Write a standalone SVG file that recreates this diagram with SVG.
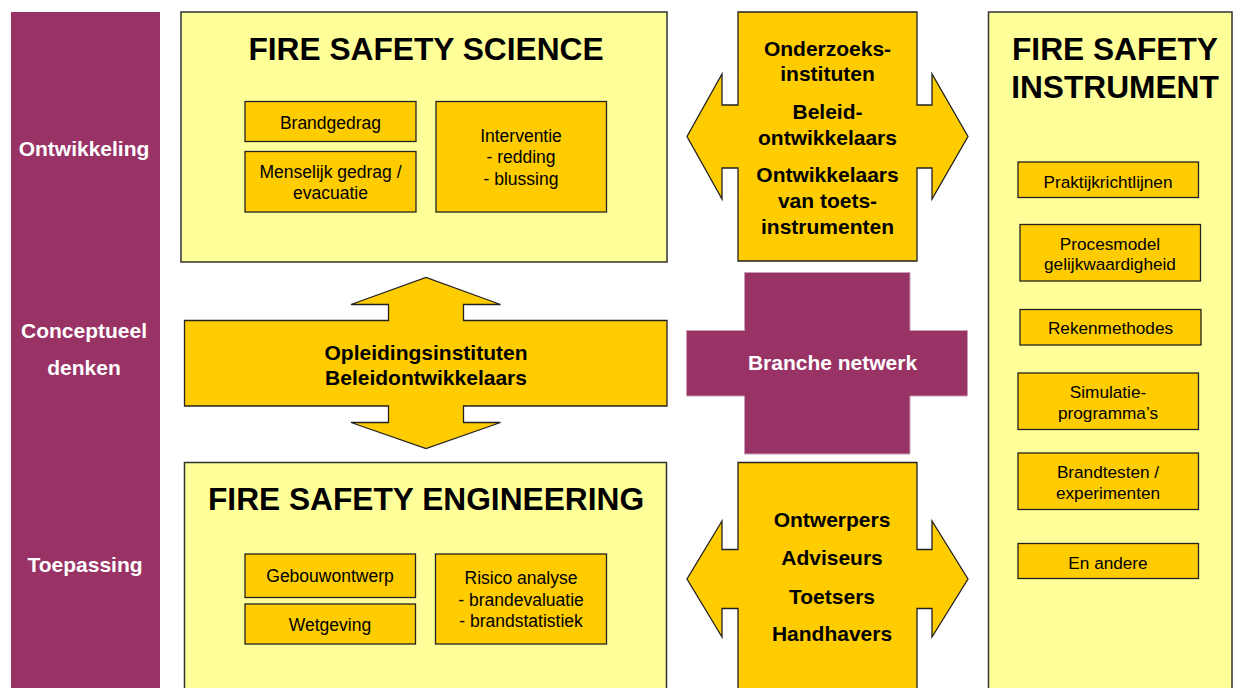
<svg xmlns="http://www.w3.org/2000/svg" width="1236" height="688" viewBox="0 0 1236 688">
  <style>
    .panel { fill: #FFFF99; stroke: #333333; stroke-width: 1.5; }
    .item { fill: #FFCC00; stroke: #222222; stroke-width: 1.3; }
    .arrow { fill: #FFCC00; stroke: #222222; stroke-width: 1.3; stroke-linejoin: miter; }
    .band { fill: #993366; }
    .cross { fill: #993366; stroke: #C9A0B6; stroke-width: 1; }
    .title { font-family: "Liberation Sans", Arial, sans-serif; font-weight: bold; font-size: 31.7px; fill: #000000; text-anchor: middle; }
    .label { font-family: "Liberation Sans", Arial, sans-serif; font-size: 17.5px; fill: #000000; text-anchor: middle; }
    .small { font-family: "Liberation Sans", Arial, sans-serif; font-size: 17.2px; fill: #000000; text-anchor: middle; }
    .bold { font-family: "Liberation Sans", Arial, sans-serif; font-weight: bold; font-size: 21px; fill: #000000; text-anchor: middle; }
    .white { font-family: "Liberation Sans", Arial, sans-serif; font-weight: bold; font-size: 21px; fill: #FFFFFF; text-anchor: middle; }
  </style>

  <rect width="1236" height="688" fill="#FFFFFF"/>

  <!-- Left band with the three levels -->
  <g id="levels">
    <rect class="band" x="11" y="12" width="149" height="680"/>
    <text class="white" x="84" y="156">Ontwikkeling</text>
    <text class="white" x="84" y="338">Conceptueel</text>
    <text class="white" x="84" y="375">denken</text>
    <text class="white" x="85" y="571.5">Toepassing</text>
  </g>

  <!-- Fire safety science -->
  <g id="science">
    <rect class="panel" x="181" y="12" width="486" height="250"/>
    <text class="title" x="426" y="60">FIRE SAFETY SCIENCE</text>
    <rect class="item" x="245" y="101.5" width="171" height="40"/>
    <text class="label" x="330.5" y="129">Brandgedrag</text>
    <rect class="item" x="245" y="151.5" width="171" height="60.5"/>
    <text class="label" x="330.5" y="178">Menselijk gedrag /</text>
    <text class="label" x="330.5" y="199">evacuatie</text>
    <rect class="item" x="436" y="101.5" width="170.5" height="110.5"/>
    <text class="label" x="521" y="141.5">Interventie</text>
    <text class="label" x="521" y="162.5">- redding</text>
    <text class="label" x="521" y="184.5">- blussing</text>
  </g>

  <!-- Fire safety engineering -->
  <g id="engineering">
    <rect class="panel" x="184.5" y="462.5" width="482" height="230"/>
    <text class="title" x="426" y="510">FIRE SAFETY ENGINEERING</text>
    <rect class="item" x="245" y="554" width="170.5" height="43.5"/>
    <text class="label" x="330" y="582">Gebouwontwerp</text>
    <rect class="item" x="245" y="604" width="170.5" height="40"/>
    <text class="label" x="330" y="631">Wetgeving</text>
    <rect class="item" x="435.5" y="554" width="171" height="90"/>
    <text class="label" x="521" y="584">Risico analyse</text>
    <text class="label" x="521" y="605.5">- brandevaluatie</text>
    <text class="label" x="521" y="626.5">- brandstatistiek</text>
  </g>

  <!-- Fire safety instrument -->
  <g id="instrument">
    <rect class="panel" x="988.5" y="12" width="243.5" height="680"/>
    <text class="title" x="1115" y="60">FIRE SAFETY</text>
    <text class="title" x="1115" y="98">INSTRUMENT</text>
    <rect class="item" x="1018" y="162" width="180.5" height="35.5"/>
    <text class="small" x="1108" y="187.5">Praktijkrichtlijnen</text>
    <rect class="item" x="1020" y="224.5" width="180.5" height="56.5"/>
    <text class="small" x="1110" y="250">Procesmodel</text>
    <text class="small" x="1110" y="269.5">gelijkwaardigheid</text>
    <rect class="item" x="1020" y="309.5" width="181" height="35.5"/>
    <text class="small" x="1110.5" y="334">Rekenmethodes</text>
    <rect class="item" x="1018" y="373" width="180.5" height="56.5"/>
    <text class="small" x="1108" y="397.5">Simulatie-</text>
    <text class="small" x="1108" y="419">programma’s</text>
    <rect class="item" x="1018" y="453" width="180.5" height="56.5"/>
    <text class="small" x="1108" y="477.5">Brandtesten /</text>
    <text class="small" x="1108" y="499">experimenten</text>
    <rect class="item" x="1018" y="543.5" width="180.5" height="35"/>
    <text class="small" x="1108" y="568.5">En andere</text>
  </g>

  <!-- Two-way arrows linking the domains -->
  <g id="connectors">
    <g id="link-science-engineering">
      <polygon class="arrow" points="184.5,320.5 388.5,320.5 388.5,304.5 351,304.5 426,277.5 500.5,304.5 463.5,304.5 463.5,320.5 667,320.5 667,406 463.5,406 463.5,422.5 500.5,422.5 426,448.5 351,422.5 388.5,422.5 388.5,406 184.5,406"/>
      <text class="bold" x="426" y="359.5">Opleidingsinstituten</text>
      <text class="bold" x="426" y="384.5">Beleidontwikkelaars</text>
    </g>
    <g id="link-science-instrument">
      <polygon class="arrow" points="738,12 917,12 917,105 932,105 932,74 968,136.5 932,199 932,168 917,168 917,261 738,261 738,168 722,168 722,199 687,136.5 722,74 722,105 738,105"/>
      <text class="bold" x="827.5" y="55.5">Onderzoeks-</text>
      <text class="bold" x="827.5" y="81">instituten</text>
      <text class="bold" x="827.5" y="118.5">Beleid-</text>
      <text class="bold" x="827.5" y="145">ontwikkelaars</text>
      <text class="bold" x="827.5" y="181.5">Ontwikkelaars</text>
      <text class="bold" x="827.5" y="207.5">van toets-</text>
      <text class="bold" x="827.5" y="233.5">instrumenten</text>
    </g>
    <g id="link-engineering-instrument">
      <polygon class="arrow" points="738,462.5 917,462.5 917,549.5 932,549.5 932,521 968,579 932,637 932,608.5 917,608.5 917,692 738,692 738,608.5 722,608.5 722,637 687,579 722,521 722,549.5 738,549.5"/>
      <text class="bold" x="832" y="526.5">Ontwerpers</text>
      <text class="bold" x="832" y="565">Adviseurs</text>
      <text class="bold" x="832" y="603.5">Toetsers</text>
      <text class="bold" x="832" y="641">Handhavers</text>
    </g>
  </g>

  <!-- Branch network hub -->
  <g id="branche-netwerk">
    <polygon class="cross" points="744.5,272.5 910,272.5 910,330.5 967.5,330.5 967.5,396 910,396 910,454 744.5,454 744.5,396 686.5,396 686.5,330.5 744.5,330.5"/>
    <text class="white" x="832.5" y="370">Branche netwerk</text>
  </g>
</svg>
